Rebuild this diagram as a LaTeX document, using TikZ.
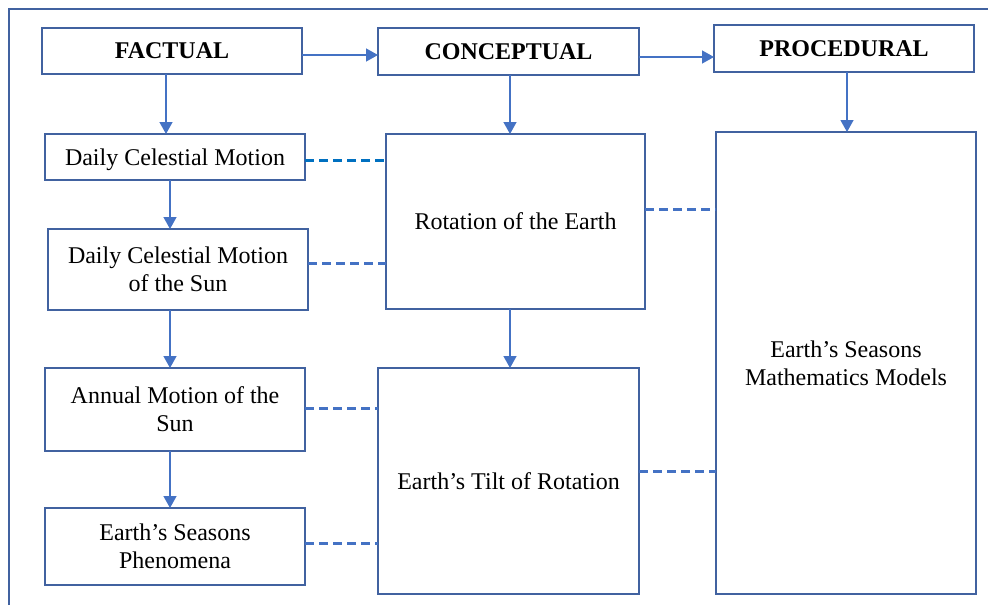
\documentclass[tikz,border=0pt]{standalone}
\usepackage{fontspec}
\setmainfont{Liberation Serif}
\usetikzlibrary{arrows.meta}
\definecolor{boxc}{RGB}{65,98,160}
\definecolor{arrc}{RGB}{68,114,196}
\definecolor{dashb}{RGB}{0,112,192}
\tikzset{
  box/.style={draw=boxc, line width=1.1pt, rectangle, inner sep=2pt, outer sep=0pt,
    align=center, font=\fontsize{12}{14}\selectfont, text=black, text depth=0pt},
  head/.style={box, font=\fontsize{12}{14}\selectfont\bfseries},
  arr/.style={draw=arrc, line width=0.7pt, -{Triangle[width=6.5pt,length=6pt]}},
  link/.style={draw=arrc, line width=1.5pt, dash pattern=on 4.5pt off 2.5pt},
  linkb/.style={link, draw=dashb},
}
\begin{document}
\begin{tikzpicture}[x=0.5pt,y=-0.5pt]
\useasboundingbox (0,0) rectangle (988,605);
% frame
\draw[boxc, line width=1.1pt] (9,605) -- (9,9) -- (988,9);
% headers
\node[head, minimum width=130pt, minimum height=23pt] (fact) at (172,51) {FACTUAL};
\node[head, minimum width=130.5pt, minimum height=23.5pt] (conc) at (508.5,51.5) {CONCEPTUAL};
\node[head, minimum width=130pt, minimum height=23.5pt] (proc) at (844,48.5) {PROCEDURAL};
% factual column
\node[box, minimum width=130pt, minimum height=23pt] (dcm) at (175,157) {Daily Celestial Motion};
\node[box, minimum width=130pt, minimum height=40.5pt] (dcms) at (178,269.5) {Daily Celestial Motion\\of the Sun};
\node[box, minimum width=130pt, minimum height=41.5pt] (ams) at (175,409.5) {Annual Motion of the\\Sun};
\node[box, minimum width=130pt, minimum height=38.5pt] (esp) at (175,546.5) {Earth’s Seasons\\Phenomena};
% conceptual column
\node[box, minimum width=129.5pt, minimum height=87.5pt] (rot) at (515.5,221.5) {Rotation of the Earth};
\node[box, minimum width=130.5pt, minimum height=113pt] (tilt) at (508.5,481) {Earth’s Tilt of Rotation};
% procedural column
\node[box, minimum width=130pt, minimum height=231pt] (mod) at (846,363) {Earth’s Seasons\\Mathematics Models};
% arrows
\draw[arr] (fact.east |- 0,55) -- (conc.west |- 0,55);
\draw[arr] (conc.east |- 0,57) -- (proc.west |- 0,57);
\draw[arr] (fact.south -| 166,0) -- (dcm.north -| 166,0);
\draw[arr] (dcm.south -| 170,0) -- (dcms.north -| 170,0);
\draw[arr] (dcms.south -| 170,0) -- (ams.north -| 170,0);
\draw[arr] (ams.south -| 170,0) -- (esp.north -| 170,0);
\draw[arr] (conc.south -| 510,0) -- (rot.north -| 510,0);
\draw[arr] (rot.south -| 510,0) -- (tilt.north -| 510,0);
\draw[arr] (proc.south -| 847,0) -- (mod.north -| 847,0);
% dashed links
\draw[linkb] (dcm.east |- 0,160) -- (rot.west |- 0,160);
\draw[link] (dcms.east |- 0,263) -- (rot.west |- 0,263);
\draw[link] (rot.east |- 0,209) -- (mod.west |- 0,209);
\draw[link] (ams.east |- 0,408) -- (tilt.west |- 0,408);
\draw[link] (esp.east |- 0,543) -- (tilt.west |- 0,543);
\draw[link] (tilt.east |- 0,471) -- (mod.west |- 0,471);
\end{tikzpicture}
\end{document}
